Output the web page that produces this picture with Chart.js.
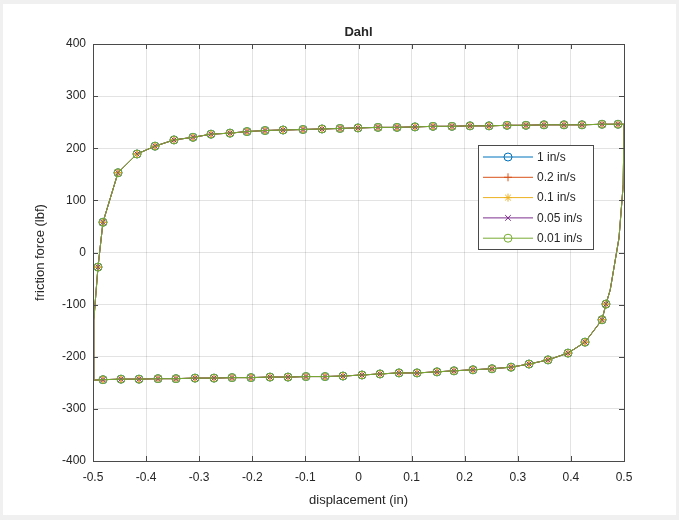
<!DOCTYPE html>
<html>
<head>
<meta charset="utf-8">
<title>Dahl</title>
<script src="https://cdn.jsdelivr.net/npm/chart.js@4.4.1/dist/chart.umd.min.js"></script>
<style>
    html, body { margin: 0; padding: 0; background: #f0f0f0; }
    #dahlChart { display: block; }
</style>
</head>
<body>
<canvas id="dahlChart" width="679" height="520"></canvas>
<script>
// speeds shown in the legend
const speedLabels = ['1 in/s', '0.2 in/s', '0.1 in/s', '0.05 in/s', '0.01 in/s'];
const speedColors = ['#0072BD', '#D95319', '#EDB120', '#7E2F8E', '#77AC30'];
const speedMarkers = ['circle', 'cross', 'star', 'crossRot', 'circle'];

// loading branch, displacement going from -0.5 to 0.5 in
const upperX = [-0.5, -0.4985, -0.4906, -0.4812, -0.4529, -0.4171, -0.3832, -0.3475, -0.3117, -0.2778,
    -0.242, -0.21, -0.176, -0.142, -0.1045, -0.0687, -0.0348, -0.001, 0.0367, 0.0725,
    0.1064, 0.1403, 0.176, 0.21, 0.2458, 0.2797, 0.3154, 0.3493, 0.387, 0.4209,
    0.4586, 0.4887, 0.5];
const upperY = [-245, -130, -28, 58, 153, 189, 204, 216, 221, 227,
    229, 232, 234, 235, 236, 237, 238, 239, 240, 240,
    241, 242, 242, 243, 243, 244, 244, 245, 245, 245,
    246, 246, 246];

// unloading branch, displacement going back from 0.5 to -0.5 in
const lowerX = [0.4985, 0.4906, 0.474, 0.466, 0.4586, 0.4266, 0.3945, 0.3569, 0.3211, 0.2872,
    0.2514, 0.2156, 0.1798, 0.1478, 0.1102, 0.0763, 0.0405, 0.0066, -0.0292, -0.063,
    -0.0989, -0.1328, -0.1667, -0.2025, -0.2382, -0.2721, -0.3079, -0.3437, -0.3776, -0.4134,
    -0.4473, -0.4812, -0.5];
const lowerY = [130, 28, -72, -99, -129, -172, -193, -206, -214, -220,
    -223, -225, -227, -229, -231, -231, -233, -235, -237, -238,
    -238, -239, -239, -240, -240, -241, -241, -242, -242, -243,
    -243, -244, -245];

// samples on the steep reversal parts are drawn without a marker
const bareUpper = [0, 1, 32];
const bareLower = [0, 1, 2, 32];

const xTickStep = 0.1;
const yTickStep = 100;

const loopX = upperX.concat(lowerX);
const loopY = upperY.concat(lowerY);
const bare = new Set(bareUpper.concat(bareLower.map(i => i + upperX.length)));
const loopPoints = loopX.map((x, i) => ({ x: x, y: loopY[i] }));

const FONT = '"Liberation Sans", Arial, Helvetica, sans-serif';
const INK = '#262626';

const datasets = speedLabels.map((label, i) => ({
    label: label,
    data: loopPoints,
    showLine: true,
    borderColor: speedColors[i],
    borderWidth: 1,
    pointStyle: speedMarkers[i],
    pointRadius: ctx => bare.has(ctx.dataIndex) ? 0 : 4,
    pointBorderColor: speedColors[i],
    pointBackgroundColor: 'rgba(0,0,0,0)',
    pointBorderWidth: 1,
    // slowest run ends up on top
    order: speedLabels.length - i
}));

// figure background, title, axis labels, boxed axes with inward ticks, legend
const matlabFrame = {
    id: 'matlabFrame',
    beforeDraw(chart) {
        const ctx = chart.ctx;
        ctx.save();
        ctx.fillStyle = '#f0f0f0';
        ctx.fillRect(0, 0, chart.width, chart.height);
        ctx.fillStyle = '#ffffff';
        ctx.fillRect(3, 4, chart.width - 6, chart.height - 9);
        ctx.restore();
    },
    afterDraw(chart) {
        const ctx = chart.ctx;
        const a = chart.chartArea;
        const xs = chart.scales.x;
        const ys = chart.scales.y;
        ctx.save();

        // axes box and ticks
        ctx.strokeStyle = '#4a4a4a';
        ctx.lineWidth = 1;
        ctx.strokeRect(Math.round(a.left) + 0.5, Math.round(a.top) + 0.5,
            Math.round(a.right - a.left), Math.round(a.bottom - a.top));
        ctx.beginPath();
        xs.ticks.forEach(t => {
            const px = Math.round(xs.getPixelForValue(t.value)) + 0.5;
            ctx.moveTo(px, a.bottom); ctx.lineTo(px, a.bottom - 5);
            ctx.moveTo(px, a.top); ctx.lineTo(px, a.top + 5);
        });
        ys.ticks.forEach(t => {
            const py = Math.round(ys.getPixelForValue(t.value)) + 0.5;
            ctx.moveTo(a.left, py); ctx.lineTo(a.left + 5, py);
            ctx.moveTo(a.right, py); ctx.lineTo(a.right - 5, py);
        });
        ctx.stroke();

        // title and axis labels
        const cx = (a.left + a.right) / 2;
        ctx.fillStyle = INK;
        ctx.textAlign = 'center';
        ctx.textBaseline = 'middle';
        ctx.font = 'bold 13px ' + FONT;
        ctx.fillText('Dahl', cx, 32);
        ctx.font = '13px ' + FONT;
        ctx.fillText('displacement (in)', cx, 500);
        ctx.save();
        ctx.translate(40, (a.top + a.bottom) / 2);
        ctx.rotate(-Math.PI / 2);
        ctx.fillText('friction force (lbf)', 0, 0);
        ctx.restore();

        // legend
        const lx = 478, ly = 145, lw = 115, lh = 104;
        ctx.fillStyle = '#ffffff';
        ctx.fillRect(lx, ly, lw, lh);
        ctx.strokeStyle = '#4a4a4a';
        ctx.strokeRect(lx + 0.5, ly + 0.5, lw, lh);
        ctx.font = '12px ' + FONT;
        ctx.textAlign = 'left';
        chart.data.datasets.forEach((ds, i) => {
            const y = ly + 12 + i * 20.3;
            ctx.strokeStyle = ds.borderColor;
            ctx.lineWidth = 1;
            ctx.beginPath();
            ctx.moveTo(lx + 5, y);
            ctx.lineTo(lx + 55, y);
            ctx.stroke();
            ctx.fillStyle = 'rgba(0,0,0,0)';
            Chart.helpers.drawPoint(ctx, {
                pointStyle: ds.pointStyle, radius: 4, borderWidth: 1, rotation: 0
            }, lx + 30, y);
            ctx.fillStyle = INK;
            ctx.fillText(ds.label, lx + 59, y + 0.5);
        });
        ctx.restore();
    }
};

const chartDahl = new Chart(document.getElementById('dahlChart'), {
    type: 'scatter',
    data: { datasets: datasets },
    plugins: [matlabFrame],
    options: {
        responsive: false,
        animation: false,
        devicePixelRatio: 1,
        layout: { padding: { left: 0, right: 55, top: 44, bottom: 0 } },
        plugins: {
            legend: { display: false },
            tooltip: { enabled: false },
            title: { display: false }
        },
        scales: {
            x: {
                type: 'linear',
                min: -0.5,
                max: 0.5,
                afterFit: s => { s.height = 59; },
                border: { display: false },
                grid: { color: 'rgba(38,38,38,0.13)', drawTicks: false },
                ticks: {
                    stepSize: xTickStep,
                    padding: 9,
                    color: INK,
                    font: { family: FONT, size: 12 },
                    maxRotation: 0,
                    callback: v => String(+v.toFixed(1))
                }
            },
            y: {
                type: 'linear',
                min: -400,
                max: 400,
                afterFit: s => { s.width = 93; },
                border: { display: false },
                grid: { color: 'rgba(38,38,38,0.13)', drawTicks: false },
                ticks: {
                    stepSize: yTickStep,
                    padding: 7,
                    color: INK,
                    font: { family: FONT, size: 12 },
                    callback: v => String(v)
                }
            }
        }
    }
});
</script>
</body>
</html>
